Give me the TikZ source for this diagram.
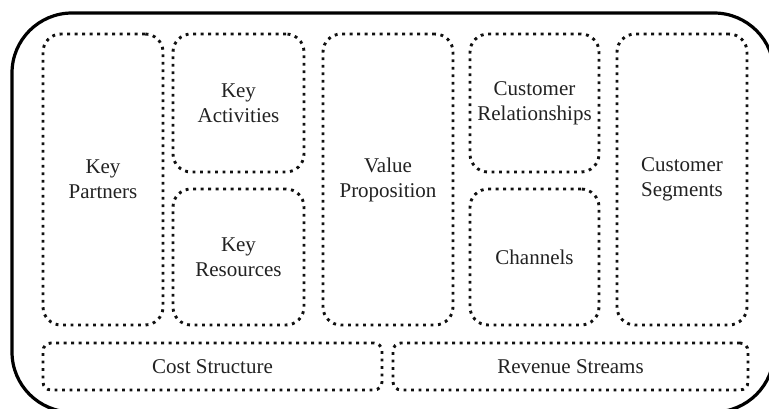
\documentclass[tikz,border=0pt]{standalone}
\usepackage{fontspec}
\setmainfont{Liberation Serif}
\definecolor{dotcol}{HTML}{111111}
\definecolor{txtcol}{HTML}{222222}
\tikzset{
  cell/.style={draw=dotcol, line width=2.9pt, dash pattern=on 2.9pt off 4.6pt,
    rounded corners=18pt, inner sep=0pt, align=center, text=txtcol,
    font=\fontsize{21}{25}\selectfont},
  bar/.style={cell, rounded corners=8pt},
  frame/.style={draw=black, line width=3.2pt, rounded corners=60pt, inner sep=0pt}
}
\begin{document}
\begin{tikzpicture}[x=1pt,y=-1pt]
\useasboundingbox (0,0) rectangle (769,409);
\fill[white] (0,0) rectangle (769,409);
\node[frame, minimum width=762pt, minimum height=399pt] (canvas) at (393,212.5) {};
% cells: center x, center y, width, height
\node[cell, minimum width=120pt, minimum height=291pt] (kp) at (103,179.5) {Key\\Partners};
\node[cell, minimum width=131pt, minimum height=138pt] (ka) at (238.5,103) {Key\\Activities};
\node[cell, minimum width=131pt, minimum height=136pt] (kr) at (238.5,257) {Key\\Resources};
\node[cell, minimum width=130pt, minimum height=291pt] (vp) at (388,179.5) {Value\\Proposition};
\node[cell, minimum width=129pt, minimum height=138pt] (cr) at (534.5,103) {Customer\\Relationships};
\node[cell, minimum width=129pt, minimum height=136pt] (ch) at (534.5,257) {Channels};
\node[cell, minimum width=130pt, minimum height=291pt] (cs) at (682,179.5) {Customer\\Segments};
\node[bar, minimum width=339pt, minimum height=47pt] (cost) at (212.5,366.5) {Cost Structure};
\node[bar, minimum width=355pt, minimum height=47pt] (rev) at (570.5,366.5) {Revenue Streams};
\end{tikzpicture}
\end{document}
